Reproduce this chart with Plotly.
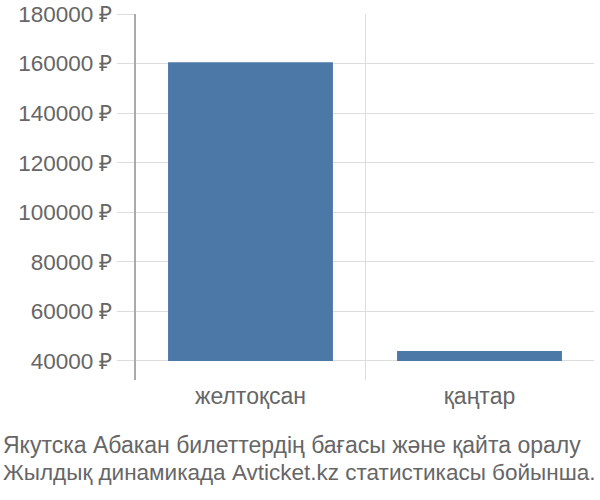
import plotly.graph_objects as go

months = ["желтоқсан", "қаңтар"]
prices = [160550, 44000]
bar_base = 40000
y_ticks = [40000, 60000, 80000, 100000, 120000, 140000, 160000, 180000]
title_lines = ["Якутска Абакан билеттердің бағасы және қайта оралу",
               "Жылдық динамикада Avticket.kz статистикасы бойынша."]

W, H = 600, 500
ML, MR, MT, MB = 136, 6, 14, 120
PW, PH = W - ML - MR, H - MT - MB

fig = go.Figure()
fig.add_trace(go.Bar(
    x=months,
    y=[p - bar_base for p in prices],
    base=bar_base,
    marker=dict(color="#4c78a8", line=dict(width=0)),
    width=0.72,
))

font_family = "Liberation Sans, Arial, sans-serif"
for i, line in enumerate(title_lines):
    fig.add_annotation(
        text=line, showarrow=False,
        xref="paper", yref="paper",
        x=-(ML - 1) / PW, xanchor="left",
        y=-(65 + 27 * i) / PH, yanchor="middle",
        font=dict(size=23 if i == 0 else 22.5, color="#666666", family=font_family),
    )

fig.update_layout(
    width=W, height=H,
    margin=dict(l=ML, r=MR, t=MT, b=MB, autoexpand=False),
    plot_bgcolor="white", paper_bgcolor="white",
    showlegend=False,
    font=dict(family=font_family, color="#666666", size=22),
    xaxis=dict(
        type="category",
        range=[-0.5, 1.5],
        tickson="boundaries",
        showgrid=True, gridcolor="#dddddd", gridwidth=1,
        ticks="", showline=False, zeroline=False,
        automargin=False,
        tickfont=dict(size=23, color="#666666"),
    ),
    yaxis=dict(
        range=[32300, 180000],
        tickvals=y_ticks,
        ticktext=[f"{v} ₽" for v in y_ticks],
        showgrid=True, gridcolor="#dddddd", gridwidth=1,
        ticks="outside", ticklen=17, tickcolor="#dddddd", tickwidth=1,
        showline=True, linecolor="#aaaaaa", linewidth=2,
        zeroline=False, automargin=False,
        tickfont=dict(size=22.5, color="#666666"),
    ),
)

fig.write_html("out.html", config={"displayModeBar": False},
               post_script="document.body.style.margin='0';")
